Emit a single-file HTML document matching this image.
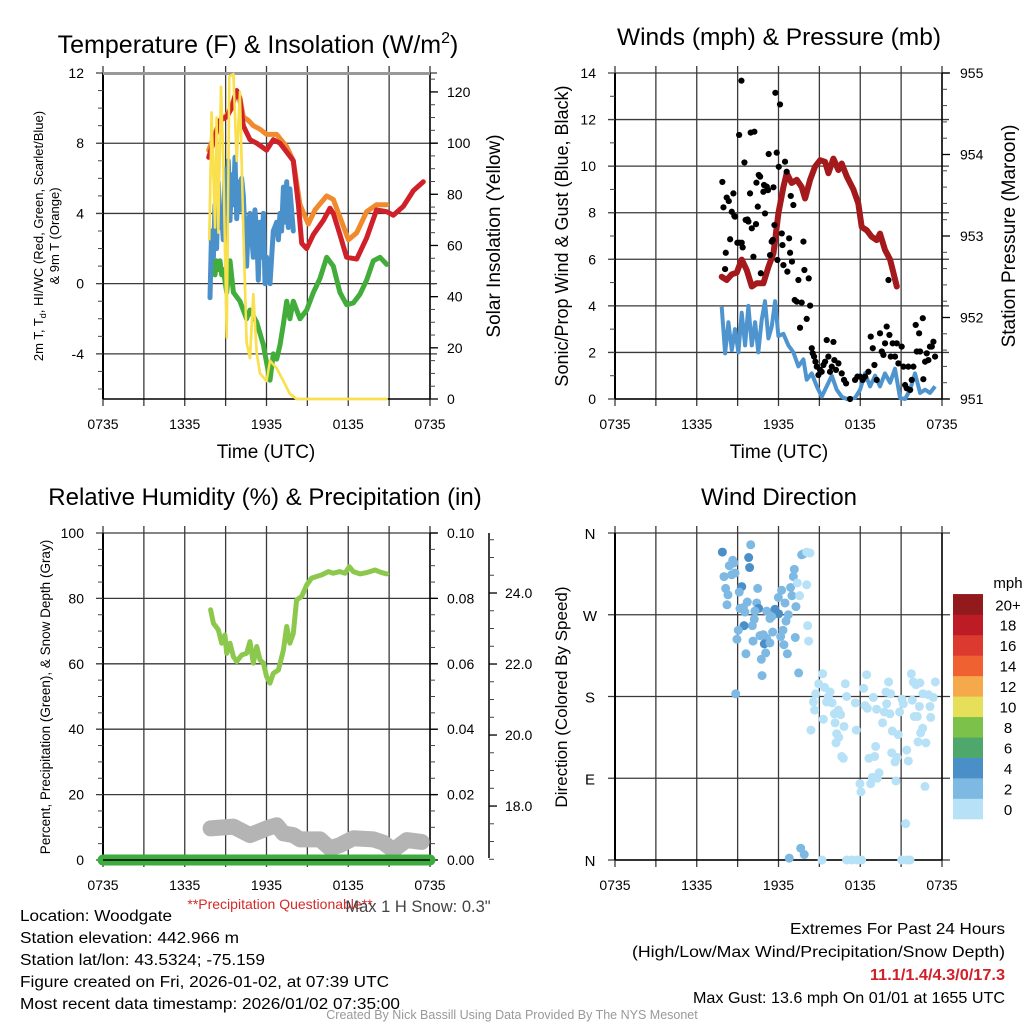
<!DOCTYPE html>
<html><head><meta charset="utf-8"><style>
body{margin:0;background:#fff;}
svg{display:block;font-family:"Liberation Sans",sans-serif;}
</style></head><body>
<svg id="chart" width="1024" height="1024" viewBox="0 0 1024 1024"></svg>
<script>
// ---- Temperature panel data (hours since 0735 UTC) ----
const tempRedT=[7.76,8.59,9.08,9.44,9.81,10.05,10.30,10.79,11.28,12.01,12.50,12.99,13.48,13.97,14.34,14.58,14.95,15.44,16.17,16.66,16.90,17.39,17.88,18.62,19.35,20.08,20.82,21.31,22.04,22.78,23.51];
const tempRedV=[7.2,9.3,9.5,10,11,10.5,9,8.2,8.0,7.6,8.2,8.0,7.5,7.0,4.5,2.3,2.0,2.8,3.6,4.3,4.0,2.8,1.5,1.4,2.6,4.2,4.1,3.9,4.4,5.3,5.8];
const tempOrgT=[7.76,8.59,9.08,9.44,9.81,10.05,10.30,10.67,11.03,11.52,12.01,12.75,13.48,13.97,14.46,15.07,15.56,16.42,16.90,17.39,18.01,18.62,19.35,20.08,20.82];
const tempOrgV=[7.6,9.3,9.6,10.1,11,10.6,9.5,9.3,9.0,8.8,8.5,8.5,7.8,7.0,4.5,3.4,4.2,5.0,4.8,3.8,2.5,2.9,4.1,4.5,4.5];
const tempBlueT=[7.85,7.97,8.10,8.22,8.34,8.46,8.59,8.71,8.83,8.96,9.08,9.20,9.32,9.44,9.57,9.69,9.81,9.93,10.05,10.17,10.30,10.54,10.67,10.79,11.03,11.15,11.28,11.40,11.52,11.64,11.77,11.89,12.01,12.26,12.50,12.75,12.87,12.99,13.11,13.24,13.36,13.48,13.60,13.72,13.97];
const tempBlueV=[-0.8,3,1.5,4.5,2,5.8,3.2,4,2.5,6.5,4,7,3.6,6.2,4.5,7.2,3.7,5.8,4.2,6,5,1,3.5,4,1.5,4.2,3,0.2,3.5,1.5,4,0,1.5,0,3,3.5,2.5,4,3,5.5,3.5,5.8,3.2,5.4,3];
const tempGrnT=[8.10,8.22,8.34,8.46,8.59,8.71,8.83,9.08,9.32,9.57,10.05,10.54,10.79,11.28,11.77,12.01,12.26,12.50,12.75,12.99,13.24,13.48,13.72,13.97,14.46,14.95,15.44,15.93,16.42,16.90,17.39,17.88,18.37,18.86,19.35,19.84,20.33,20.82];
const tempGrnV=[1.3,0.5,1.3,0.8,1.3,0.5,0.8,-0.5,1.3,-0.5,-1,-2,-1.5,-2.2,-3.5,-4.5,-5.5,-4,-4.3,-3.5,-2.3,-1,-2,-1,-2,-1.5,-0.5,0.3,1.5,1.0,-0.5,-1.2,-1.1,-0.6,0.2,1.3,1.5,1.1];
const solarT=[7.80,7.97,8.22,8.34,8.46,8.66,8.83,9.08,9.27,9.57,9.81,10.05,10.30,10.54,10.79,11.03,11.28,11.52,12.01,12.26,12.75,13.24,13.72,14.21,20.82];
const solarV=[62,112,67,110,65,122,93,24,126,127,93,120,67,22,16,41,18,10,7,15,12,7,2,0,0];
// ---- Winds panel data ----
const presT=[7.83,8.20,8.57,8.93,9.30,9.67,10.04,10.40,10.89,11.26,11.63,11.99,12.36,12.60,12.97,13.34,13.70,13.95,14.32,14.68,15.05,15.42,15.66,16.03,16.40,16.64,17.01,17.50,17.86,18.11,18.48,18.84,19.21,19.45,19.82,20.19,20.43,20.68];
const presV=[952.50,952.46,952.53,952.55,952.71,952.58,952.38,952.42,952.42,952.62,952.79,953.28,953.60,953.77,953.65,953.69,953.60,953.46,953.69,953.85,953.93,953.91,953.77,953.95,953.81,953.89,953.73,953.57,953.40,953.11,953.07,952.99,952.95,953.03,952.83,952.71,952.55,952.38];
const windT=[7.83,8.08,8.32,8.57,8.81,9.06,9.30,9.55,9.79,10.04,10.28,10.52,10.77,11.01,11.26,11.50,11.75,11.99,12.36,12.73,13.09,13.46,13.83,14.07,14.44,14.81,15.17,15.54,15.91,16.27,16.64,17.01,17.62,17.99,18.35,18.72,19.09,19.45,19.82,20.19,20.55,20.92,21.29,21.66,22.02,22.39,22.76,23.12,23.49];
const windV=[3.96,1.96,3.3,2.1,3.0,2.0,3.7,2.3,4.0,2.3,3.3,2.0,3.4,4.2,2.6,3.1,4.2,2.7,2.8,2.3,2.0,1.4,1.7,0.83,1.1,0.54,0.1,0.54,1.0,0.4,0.1,0,0.05,0.4,1.1,0.54,1.0,0.54,1.1,0.7,1.3,0.05,0,0.4,1.1,0.26,0.4,0.26,0.54];
const gustT=[7.88,7.96,8.13,8.08,8.20,8.35,8.45,8.57,8.69,8.76,8.81,8.98,9.11,9.13,9.28,9.30,9.37,9.50,9.59,9.72,9.79,9.91,9.96,10.04,10.16,10.23,10.35,10.38,10.48,10.55,10.65,10.70,10.89,10.94,11.01,11.14,11.23,11.28,11.38,11.50,11.58,11.63,11.70,11.77,11.87,11.92,12.02,12.11,12.24,12.29,12.36,12.48,12.60,12.65,12.78,12.85,12.90,12.99,13.09,13.19,13.34,13.46,13.58,13.70,13.83,13.90,14.07,14.22,14.32,14.44,14.51,14.61,14.71,14.81,14.93,15.05,15.17,15.30,15.42,15.54,15.66,15.78,15.91,16.03,16.10,16.22,16.40,16.64,16.81,16.96,17.25,17.62,17.79,17.99,18.18,18.35,18.60,18.77,18.92,19.04,19.21,19.45,19.58,19.70,19.82,19.94,20.07,20.14,20.24,20.38,20.55,20.68,20.80,21.04,21.17,21.29,21.41,21.53,21.66,21.78,21.90,22.07,22.15,22.32,22.39,22.59,22.63,22.76,22.88,23.00,23.12,23.25,23.37,23.49];
const gustV=[9.32,8.23,6.28,5.58,8.65,8.50,6.86,8.04,8.83,7.86,7.83,6.71,11.34,6.71,13.67,6.71,6.51,10.16,7.69,7.71,7.62,8.83,11.44,7.33,6.11,11.48,7.51,9.29,8.26,9.62,9.55,5.40,8.90,9.19,7.97,9.12,8.97,10.52,6.18,6.76,6.83,9.09,7.47,13.15,10.58,5.97,9.97,12.65,7.11,6.61,5.75,10.19,9.76,5.47,6.90,6.28,8.72,5.90,8.33,4.25,4.18,5.11,3.06,4.14,6.76,5.54,3.44,5.18,4.01,2.18,1.96,1.82,1.60,1.39,1.03,1.25,1.17,1.46,1.60,2.53,1.82,1.17,1.39,2.45,1.67,1.25,1.53,1.10,0.82,0.67,0,0.82,0.96,0.96,0.82,0.96,1.17,2.68,2.18,1.46,0.82,2.82,2.04,1.89,2.39,3.11,5.11,2.75,1.82,2.39,1.82,2.39,1.53,2.25,1.39,0.60,0.46,1.39,0.39,0.82,1.39,3.18,2.04,2.82,2.04,3.47,0.85,1.60,1.96,1.67,2.25,2.25,2.46,1.82];
// ---- Humidity panel data ----
const rhT=[7.90,8.10,8.46,8.71,8.95,9.08,9.32,9.57,9.81,10.18,10.54,10.79,11.03,11.28,11.52,11.77,12.01,12.26,12.50,12.87,13.24,13.48,13.72,13.97,14.21,14.58,14.95,15.31,15.68,16.05,16.54,16.90,17.39,17.76,18.08,18.37,18.86,19.35,19.96,20.45,20.82];
const rhV=[76.5,72.4,70.4,66.3,68.8,63.2,66.3,62.2,60.7,62.7,63.2,66.8,60.2,65.3,61.2,60.2,56.1,54.1,57.1,58.1,64.2,71.4,66.3,69.3,79.5,80.6,84.1,86.2,86.7,87.2,88.2,87.7,88.2,87.7,89.7,88.2,87.5,87.9,88.7,87.9,87.5];
const snowT=[7.90,9.57,10.79,12.01,12.75,13.24,13.97,14.46,15.93,16.66,17.39,18.37,19.84,20.57,21.31,22.29,23.39];
const snowV=[17.37,17.42,17.18,17.37,17.46,17.23,17.18,17.06,17.06,16.81,16.90,17.09,17.06,16.97,16.76,17.04,16.99];
const precipT=[0,24];
const precipV=[0,0];
// ---- Wind direction data ----
const dirT=[7.88,9.96,9.81,9.88,8.64,8.39,8.73,8.00,8.56,8.81,8.12,8.29,9.30,9.12,10.47,8.22,9.17,9.42,9.71,10.40,10.54,9.54,10.27,11.13,11.74,12.01,11.50,11.37,10.22,10.08,9.47,9.05,8.95,10.13,10.64,10.89,11.13,10.96,11.37,11.57,9.61,11.06,10.74,10.79,8.86,11.99,12.23,12.48,12.72,12.55,12.33,12.16,12.40,12.65,12.89,12.99,13.28,13.23,13.48,13.09,13.16,13.70,13.82,14.07,14.31,13.38,14.07,13.55,14.14,14.21,
15.24,14.95,15.39,15.78,14.73,14.56,15.53,15.93,15.66,14.65,15.29,16.10,16.39,16.56,16.15,16.81,14.38,16.27,16.42,16.22,16.64,16.76,16.90,17.00,17.64,17.71,18.25,18.47,18.35,18.52,18.96,19.20,19.64,19.77,19.94,20.08,19.89,20.23,20.18,20.35,20.79,20.89,21.06,21.16,21.75,21.89,22.09,22.38,21.82,22.34,21.97,22.19,22.60,23.00,23.51,23.36,23.12,23.17,22.58,22.43,22.24,22.82,19.13,19.06,18.64,20.31,20.70,20.55,21.41,21.53,19.38,18.89,18.76,19.25,17.98,18.05,20.62,22.75,21.33,
13.63,13.89,12.79,15.19,17.00,17.37,17.74,18.10,21.04,21.41,21.65];
const dirV=[339,347,333,322,330,324,327,312,314,316,299,292,301,295,299,281,277,278,284,283,277,273,274,274,276,271,268,266,265,258,258,253,243,241,247,248,244,238,239,251,227,228,221,203,183,289,297,283,270,263,253,246,237,227,300,291,279,245,206,312,320,336,337,339,338,305,303,291,258,241,
205,194,190,185,183,174,174,173,180,165,155,161,165,160,151,147,143,139,135,129,114,112,194,180,173,143,189,204,170,167,179,166,151,163,172,196,185,183,161,142,138,163,177,172,205,196,193,195,176,169,158,158,183,182,196,179,169,157,145,140,130,129,125,114,112,118,113,108,121,109,96,91,84,90,84,75,87,81,40,
13,6,2,0,0,0,0,0,0,0,0];
const dirS=[4.2,2.5,4.2,4.2,2.5,2.5,2.5,2.5,2.5,2.5,2.5,2.5,4.2,2.5,2.5,2.5,2.5,2.5,2.5,2.5,4.2,2.5,2.5,2.5,4.2,4.2,2.5,2.5,2.5,2.5,4.2,2.5,2.5,2.5,2.5,2.5,2.5,4.2,2.5,2.5,2.5,2.5,2.5,2.5,2.5,2.5,2.5,2.5,2.5,2.5,2.5,2.5,2.5,2.5,2.5,2.5,2.5,2.5,2.5,2.5,2.5,2.5,2.5,1,1,1,1,1,1,1,
1,1,1,1,1,1,1,1,1,1,1,1,1,1,1,1,1,1,1,1,1,1,1,1,1,1,1,1,1,1,1,1,1,1,1,1,1,1,1,1,1,1,1,1,1,1,1,1,1,1,1,1,1,1,1,1,1,1,1,1,1,1,1,1,1,1,1,1,1,1,1,1,1,1,1,1,1,1,1,
2.5,2.5,2.5,1,1,1,1,1,1,1,1];
const xTickLabels=["0735","1335","1935","0135","0735"];
const legendLabels=["0","2","4","6","8","10","12","14","16","18","20+"];
const legendColors=["#b6e1f6","#7db9e3","#4a8fc8","#4ea86c","#7cc14a","#e6df5a","#f6a94a","#ef6130","#dc3a2e","#bd1c26","#931a1c"];

const NS="http://www.w3.org/2000/svg";
const svg=document.getElementById('chart');
function mk(tag,attrs,parent){const e=document.createElementNS(NS,tag);for(const k in attrs)e.setAttribute(k,attrs[k]);(parent||svg).appendChild(e);return e;}
function txt(s,x,y,size,opts,parent){opts=opts||{};const e=mk('text',{x:x,y:y,'font-size':size,'text-anchor':opts.anchor||'middle',fill:opts.fill||'#000'},parent);
 if(opts.weight)e.setAttribute('font-weight',opts.weight);
 if(opts.rot)e.setAttribute('transform','rotate('+opts.rot+' '+x+' '+y+')');
 e.textContent=s;return e;}
function scale(d0,d1,r0,r1){return v=>r0+(v-d0)/(d1-d0)*(r1-r0);}
function pathD(T,V,sx,sy){return T.map((t,i)=>(i?'L':'M')+sx(t).toFixed(1)+','+sy(V[i]).toFixed(1)).join('');}

function frame(x0,x1,y0,y1,yTicks,sy,name,hExt){
 const g=mk('g',{});
 
 
 const sx=scale(0,24,x0,x1);
 for(let h=0;h<=24;h+=3){mk('line',{x1:sx(h),x2:sx(h),y1:y0-7,y2:y1+7,stroke:'#3a3a3a','stroke-width':1.3},g);}
 yTicks.forEach(v=>{mk('line',{x1:x0-7,x2:(hExt||x1+7),y1:sy(v),y2:sy(v),stroke:'#3a3a3a','stroke-width':1.3},g);});
 mk('line',{x1:x0,x2:x0,y1:y0,y2:y1,stroke:'#000','stroke-width':2},g);
 mk('line',{x1:x1,x2:x1,y1:y0,y2:y1,stroke:'#000','stroke-width':1.5},g);
 mk('line',{x1:x0,x2:x1,y1:y1,y2:y1,stroke:'#000','stroke-width':1.5},g);
 xTickLabels.forEach((l,i)=>{const t=txt(l,sx(i*6),y1+30,14);
  });
 return sx;
}
function minorTicks(x,y0,y1,step,dir,sy,vmin,vmax){for(let v=vmin;v<=vmax+1e-9;v+=step){const y=sy(v);if(y<y0-0.5||y>y1+0.5)continue;mk('line',{x1:x,x2:x+dir*5,y1:y,y2:y,stroke:'#444','stroke-width':1});}}

// ===== Panel 1: Temperature =====
(function(){
 const x0=103,x1=430,y0=73,y1=399;
 const sy=scale(-6.57,12,y1,y0), sr=scale(0,127.4,y1,y0);
 const sx=frame(x0,x1,y0,y1,[-4,0,4,8,12],sy,'temperature');
 mk('line',{x1:x0,x2:x1,y1:y0+0.5,y2:y0+0.5,stroke:'#999','stroke-width':3});
 minorTicks(x0,y0,y1,1,-1,sy,-6,12);
 minorTicks(x1,y0,y1,5,1,sr,0,125);
 [-4,0,4,8,12].forEach(v=>txt(String(v),84,sy(v)+5,14,{anchor:'end'}));
 [0,20,40,60,80,100,120].forEach(v=>{mk('line',{x1:x1,x2:x1+8,y1:sr(v),y2:sr(v),stroke:'#000','stroke-width':1.3});txt(String(v),447,sr(v)+5,14,{anchor:'start'});});
 const series=[[solarT,solarV,'#f7df4a',2.5,sr,'solar-insolation-line'],[tempGrnT,tempGrnV,'#43ad3c',5,sy,'dewpoint-line'],[tempBlueT,tempBlueV,'#4a90ca',5,sy,'wind-chill-line'],[tempOrgT,tempOrgV,'#f08a2c',5,sy,'temp-9m-line'],[tempRedT,tempRedV,'#d0202a',5,sy,'temp-2m-line']];
 series.forEach(s=>{const p=mk('path',{d:pathD(s[0],s[1],sx,s[4]),fill:'none',stroke:s[2],'stroke-width':s[3],'stroke-linejoin':'round','stroke-linecap':'round'});
  });
 const py=mk('path',{d:pathD(solarT,solarV,sx,sr),fill:'none',stroke:'#f9e04c','stroke-width':2.5,'stroke-linejoin':'round'});
 
 const t=txt('Temperature (F) & Insolation (W/m',258,53,25);const sup=mk('tspan',{'font-size':16,dy:-10},t);sup.textContent='2';const cl=mk('tspan',{'font-size':25,dy:10},t);cl.textContent=')';
 
 const xl=txt('Time (UTC)',266,458,19);
 const a=txt('2m T, T',0,0,13,{});a.setAttribute('transform','translate(43,236) rotate(-90)');
 const sub=mk('tspan',{'font-size':9,dy:3},a);sub.textContent='d';const r=mk('tspan',{dy:-3},a);r.textContent=', HI/WC (Red, Green, Scarlet/Blue)';
 
 const b=txt('& 9m T (Orange)',0,0,13,{});b.setAttribute('transform','translate(59,236) rotate(-90)');
 const ry=txt('Solar Insolation (Yellow)',500,236,19,{rot:-90});
})();

// ===== Panel 2: Winds =====
(function(){
 const x0=615,x1=942,y0=73,y1=399;
 const sy=scale(0,14,y1,y0), sp=scale(951,955,y1,y0);
 const sx=frame(x0,x1,y0,y1,[0,2,4,6,8,10,12,14],sy,'winds');
 minorTicks(x0,y0,y1,1,-1,sy,0,14);
 minorTicks(x1,y0,y1,0.2,1,sp,951,955);
 [0,2,4,6,8,10,12,14].forEach(v=>txt(String(v),596,sy(v)+5,14,{anchor:'end'}));
 [951,952,953,954,955].forEach(v=>{mk('line',{x1:x1,x2:x1+8,y1:sp(v),y2:sp(v),stroke:'#000','stroke-width':1.3});txt(String(v),960,sp(v)+5,14,{anchor:'start'});});
 const pw=mk('path',{d:pathD(windT,windV,sx,sy),fill:'none',stroke:'#4e94cf','stroke-width':4,'stroke-linejoin':'round'});
 
 const pp=mk('path',{d:pathD(presT,presV,sx,sp),fill:'none',stroke:'#a3191c','stroke-width':6,'stroke-linejoin':'round','stroke-linecap':'round'});
 
 gustT.forEach((t,i)=>{const c=mk('circle',{cx:sx(t),cy:sy(gustV[i]),r:3.1,fill:'#000'});
  });
 const t=txt('Winds (mph) & Pressure (mb)',779,45,24.5);
 const xl=txt('Time (UTC)',779,458,19);
 const ly=txt('Sonic/Prop Wind & Gust (Blue, Black)',568,236,18,{rot:-90});
 const ry=txt('Station Pressure (Maroon)',1015,236,19,{rot:-90});
})();

// ===== Panel 3: Humidity =====
(function(){
 const x0=103,x1=430,y0=533,y1=860;
 const sy=scale(0,100,y1,y0), sr=scale(0,0.1,y1,y0), ss=scale(16.48,25.69,y1,y0);
 const sx=frame(x0,x1,y0,y1,[0,20,40,60,80,100],sy,'humidity');
 minorTicks(x0,y0,y1,5,-1,sy,0,100);
 minorTicks(x1,y0,y1,0.005,1,sr,0,0.1);
 [0,20,40,60,80,100].forEach(v=>txt(String(v),84,sy(v)+5,14,{anchor:'end'}));
 [0,0.02,0.04,0.06,0.08,0.1].forEach(v=>{mk('line',{x1:x1,x2:x1+8,y1:sr(v),y2:sr(v),stroke:'#000','stroke-width':1.3});txt(v.toFixed(2),447,sr(v)+5,14,{anchor:'start'});});
 const ax=489;mk('line',{x1:ax,x2:ax,y1:y0,y2:y1-2,stroke:'#000','stroke-width':1.5});
 minorTicks(ax,y0,y1,0.5,1,ss,16.5,25.5);
 [18,20,22,24].forEach(v=>{mk('line',{x1:ax,x2:ax+8,y1:ss(v),y2:ss(v),stroke:'#000','stroke-width':1.3});txt(v.toFixed(1),505,ss(v)+5,14,{anchor:'start'});});
 const ps=mk('path',{d:pathD(snowT,snowV,sx,ss),fill:'none',stroke:'#b4b4b4','stroke-width':16,'stroke-linejoin':'round','stroke-linecap':'round'});
 
 const pr=mk('path',{d:pathD(precipT,precipV,sx,sr),fill:'none',stroke:'#3dac3f','stroke-width':11,'stroke-linecap':'round'});
 
 mk('line',{x1:x0,x2:x1,y1:y1,y2:y1,stroke:'#000','stroke-width':1.5});
 const ph=mk('path',{d:pathD(rhT,rhV,sx,sy),fill:'none',stroke:'#8cc84b','stroke-width':5,'stroke-linejoin':'round','stroke-linecap':'round'});
 
 const t=txt('Relative Humidity (%) & Precipitation (in)',265,505,24);
 const ly=txt('Percent, Precipitation (Green), & Snow Depth (Gray)',50,697,13.5,{rot:-90});
 const q=txt('**Precipitation Questionable**',280,909,14,{fill:'#d42a2a'});
 const m=txt('Max 1 H Snow: 0.3"',418,912,16.5,{fill:'#444'});
})();

// ===== Panel 4: Wind direction =====
(function(){
 const x0=615,x1=942,y0=533,y1=860;
 const sy=scale(0,360,y1,y0);
 const sx=frame(x0,x1,y0,y1,[0,90,180,270,360],sy,'wind-direction',950);
 ['N','E','S','W','N'].forEach((l,i)=>txt(l,590,sy(i*90)+6,15));
 function col(s){let k=Math.min(10,Math.floor((s+0.5)/2));return legendColors[k];}
 dirT.forEach((t,i)=>{const c=mk('circle',{cx:sx(t),cy:sy(dirV[i]),r:4.5,fill:col(dirS[i])});
  });
 const lg=mk('g',{});
 const bh=20.45;
 legendLabels.forEach((l,i)=>{const yb=819-(i+1)*bh;mk('rect',{x:953,y:yb,width:30,height:bh+0.3,fill:legendColors[i]},lg);
  txt(l,1008,yb+bh/2+6,15,{},lg);});
 txt('mph',1008,588,15,{},lg);
 const t=txt('Wind Direction',779,505,24);
 const ly=txt('Direction (Colored By Speed)',567,697,17,{rot:-90});
})();

// ===== Footer =====
(function(){
 const lines=['Location: Woodgate','Station elevation: 442.966 m','Station lat/lon: 43.5324; -75.159','Figure created on Fri, 2026-01-02, at 07:39 UTC','Most recent data timestamp: 2026/01/02 07:35:00'];
 const widths=[152,219,245,369,380];
 lines.forEach((l,i)=>{const t=txt(l,20,921+i*22,15.5,{anchor:'start'});t.setAttribute('textLength',widths[i]);t.setAttribute('lengthAdjust','spacingAndGlyphs');});
 const r=[['Extremes For Past 24 Hours','#000',null,215],['(High/Low/Max Wind/Precipitation/Snow Depth)','#000',null,373],['11.1/1.4/4.3/0/17.3','#d0202a','bold',135],['Max Gust: 13.6 mph On 01/01 at 1655 UTC','#000',null,312]];
 r.forEach((l,i)=>{const t=txt(l[0],1005,934+i*23,16,{anchor:'end',fill:l[1],weight:l[2]});t.setAttribute('textLength',l[3]);t.setAttribute('lengthAdjust','spacingAndGlyphs');});
 const c=txt('Created By Nick Bassill Using Data Provided By The NYS Mesonet',512,1019,12.5,{fill:'#999'});
})();
</script>
</body></html>
